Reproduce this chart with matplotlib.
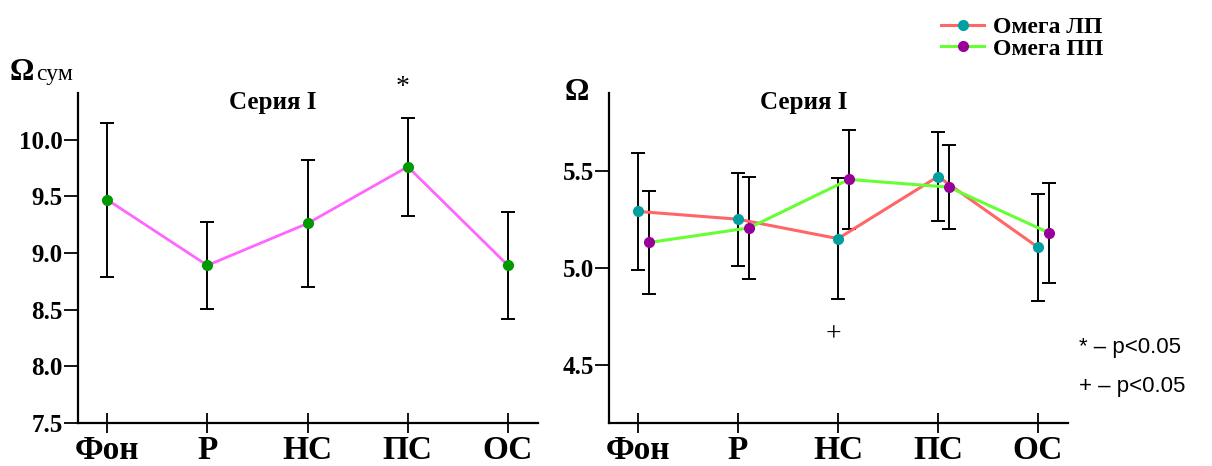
import numpy as np
import matplotlib
matplotlib.use("Agg")
import matplotlib.pyplot as plt

# stage labels
stages = ["Фон", "Р", "НС", "ПС", "ОС"]

# left panel: Omega sum, series I
omega_sum = [9.47, 8.89, 9.26, 9.76, 8.89]
omega_sum_err = [0.68, 0.385, 0.56, 0.43, 0.47]

# right panel: Omega left / right hemisphere
omega_lp = [5.29, 5.25, 5.15, 5.47, 5.105]
omega_lp_err = [0.30, 0.24, 0.31, 0.23, 0.275]
omega_pp = [5.13, 5.205, 5.455, 5.415, 5.18]
omega_pp_err = [0.265, 0.265, 0.255, 0.215, 0.258]

left_ticks = [7.5, 8.0, 8.5, 9.0, 9.5, 10.0]
right_ticks = [4.5, 5.0, 5.5]

SERIF = "Liberation Serif"
plt.rcParams["font.family"] = [SERIF, "DejaVu Serif"]

fig = plt.figure(figsize=(12.12, 4.66), dpi=100)
ax1 = fig.add_axes([0.0644, 0.0923, 0.3795, 0.708])
ax2 = fig.add_axes([0.5025, 0.0923, 0.3787, 0.708])

x = np.arange(len(stages))


def style_axes(ax, yticks, ylim):
    for s in ("top", "right"):
        ax.spines[s].set_visible(False)
    for s in ("left", "bottom"):
        ax.spines[s].set_linewidth(1.6)
    ax.set_xlim(-0.29, 4.3)
    ax.set_ylim(*ylim)
    ax.set_xticks(x)
    ax.set_xticklabels(stages, fontsize=24, fontweight="bold")
    ax.set_yticks(yticks)
    ax.set_yticklabels([f"{v:.1f}" for v in yticks], fontsize=18, fontweight="bold")
    ax.tick_params(axis="y", direction="out", length=10, width=1.3, pad=1)
    ax.tick_params(axis="x", direction="inout", length=14, width=1.3, pad=2)
    ax.text(0.424, 0.97, "Серия I", transform=ax.transAxes, ha="center",
            va="center", fontsize=18, fontweight="bold")


# left
ax1.errorbar(x, omega_sum, yerr=omega_sum_err, fmt="none", ecolor="black",
             elinewidth=1.4, capsize=5, capthick=1.4, zorder=2)
ax1.plot(x, omega_sum, color="#ff66ff", lw=2, marker="o", ms=7,
         mfc="#009900", mec="#009900", zorder=3)
style_axes(ax1, left_ticks, (7.5, 10.41))
ax1.text(2.95, 10.46, "*", ha="center", va="center", fontsize=20, clip_on=False)
fig.text(0.008, 0.828, "Ω", fontsize=22, fontweight="bold", va="baseline")
fig.text(0.030, 0.828, "сум", fontsize=17, va="baseline")

# right
off = 0.11
ax2.errorbar(x, omega_lp, yerr=omega_lp_err, fmt="none", ecolor="black",
             elinewidth=1.4, capsize=5, capthick=1.4, zorder=2)
ax2.errorbar(x + off, omega_pp, yerr=omega_pp_err, fmt="none", ecolor="black",
             elinewidth=1.4, capsize=5, capthick=1.4, zorder=2)
l1, = ax2.plot(x, omega_lp, color="#ff6666", lw=2.2, marker="o", ms=7,
               mfc="#00a0a0", mec="#00a0a0", zorder=3, label="Омега ЛП")
l2, = ax2.plot(x + off, omega_pp, color="#66ff33", lw=2.2, marker="o", ms=7,
               mfc="#990099", mec="#990099", zorder=3, label="Омега ПП")
style_axes(ax2, right_ticks, (4.2, 5.9))
ax2.text(1.95, 4.656, "+", ha="center", va="center", fontsize=20)
fig.text(0.466, 0.786, "Ω", fontsize=22, fontweight="bold", va="baseline")

fig.legend(handles=[l1, l2], loc="upper left", bbox_to_anchor=(0.765, 0.995),
           frameon=False, prop={"family": SERIF, "weight": "bold", "size": 17},
           handlelength=1.8, handletextpad=0.4, labelspacing=0.0,
           borderaxespad=0.2)

fig.text(0.89, 0.255, "* – p<0.05", fontsize=16, va="center", family="Liberation Sans")
fig.text(0.89, 0.17, "+ – p<0.05", fontsize=16, va="center", family="Liberation Sans")

fig.savefig("out.png", dpi=100, facecolor="white")
